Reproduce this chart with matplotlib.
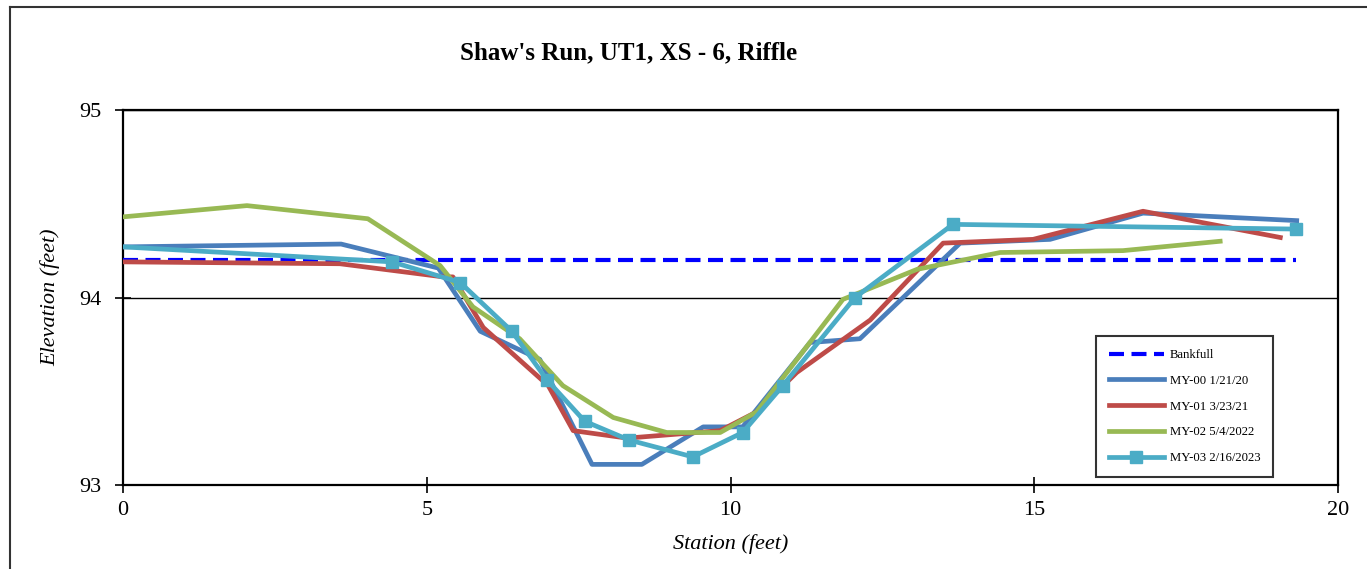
import matplotlib
matplotlib.use("Agg")
import matplotlib.pyplot as plt
from matplotlib.lines import Line2D

plt.rcParams['font.family'] = ['Liberation Serif', 'DejaVu Serif']

title = "Shaw's Run, UT1, XS - 6, Riffle"
x_label = "Station (feet)"
y_label = "Elevation (feet)"

bankfull_sta = [0.0, 19.31]
bankfull_elev = [94.20, 94.20]

my00_sta = [0.0, 3.59, 5.19, 5.88, 6.86, 7.72, 8.54, 9.55, 10.20, 11.31, 12.13, 13.78, 15.26, 16.79, 19.32]
my00_elev = [94.27, 94.285, 94.157, 93.82, 93.67, 93.11, 93.11, 93.31, 93.31, 93.76, 93.78, 94.29, 94.31, 94.45, 94.41]

my01_sta = [0.0, 3.57, 5.27, 5.43, 5.93, 7.00, 7.41, 8.30, 9.83, 10.43, 11.09, 12.30, 13.50, 14.98, 16.79, 19.05]
my01_elev = [94.19, 94.18, 94.11, 94.11, 93.84, 93.53, 93.29, 93.25, 93.29, 93.39, 93.60, 93.88, 94.29, 94.31, 94.46, 94.32]

my02_sta = [0.0, 2.04, 4.03, 5.22, 5.76, 6.53, 7.24, 8.07, 8.95, 9.83, 10.43, 11.85, 13.07, 14.44, 16.46, 18.06]
my02_elev = [94.43, 94.49, 94.42, 94.17, 93.95, 93.78, 93.53, 93.36, 93.28, 93.28, 93.39, 93.99, 94.15, 94.24, 94.25, 94.30]

my03_sta = [0.0, 4.43, 5.55, 6.40, 6.98, 7.60, 8.33, 9.38, 10.20, 10.86, 12.05, 13.66, 19.31]
my03_elev = [94.27, 94.19, 94.08, 93.82, 93.56, 93.34, 93.24, 93.15, 93.28, 93.53, 94.00, 94.39, 94.365]

series_labels = ["Bankfull", "MY-00 1/21/20", "MY-01 3/23/21", "MY-02 5/4/2022", "MY-03 2/16/2023"]

x_ticks = [0, 5, 10, 15, 20]
y_ticks = [93, 94, 95]

fig = plt.figure(figsize=(13.67, 5.69), dpi=100)
ax = fig.add_axes([0.0900, 0.1476, 0.8888, 0.6591])

lw = 3.4
ax.plot(bankfull_sta, bankfull_elev, color="#0000FF", lw=3.0, dashes=(3.6, 1.8),
        label=series_labels[0], zorder=3)
ax.plot(my00_sta, my00_elev, color="#4A7EBB", lw=lw, label=series_labels[1], zorder=4)
ax.plot(my01_sta, my01_elev, color="#BE4B48", lw=lw, label=series_labels[2], zorder=5)
ax.plot(my02_sta, my02_elev, color="#98B954", lw=lw, label=series_labels[3], zorder=6)
ax.plot(my03_sta, my03_elev, color="#4BACC6", lw=lw, marker="s", markersize=9,
        markevery=list(range(1, len(my03_sta))), label=series_labels[4], zorder=7)

ax.set_xlim(0, 20)
ax.set_ylim(93, 95)
ax.set_xticks(x_ticks)
ax.set_yticks(y_ticks)
ax.tick_params(direction="inout", length=11, width=1.2, labelsize=16, color="black")
ax.tick_params(axis="x", pad=6)
ax.tick_params(axis="y", pad=10)
ax.yaxis.grid(True, color="black", lw=1.0)
ax.set_axisbelow(True)
for s in ax.spines.values():
    s.set_linewidth(1.6)
    s.set_color("black")

ax.set_xlabel(x_label, fontsize=16, style="italic", labelpad=10)
ax.set_ylabel(y_label, fontsize=16, style="italic", labelpad=14)
fig.text(0.4595, 0.908, title, fontsize=18, fontweight="bold", ha="center", va="center")

leg = ax.legend(loc="lower right", bbox_to_anchor=(0.9465, 0.0213), fontsize=9.2,
                frameon=True, fancybox=False, edgecolor="black", handlelength=4.3,
                labelspacing=1.08, borderpad=1.0, handletextpad=0.45,
                borderaxespad=0.0)
leg.get_frame().set_linewidth(1.5)

# outer chart frame
fig.add_artist(Line2D([10 / 1367, 10 / 1367], [0, 1 - 7 / 569], color="#333333", lw=1.5,
                      transform=fig.transFigure))
fig.add_artist(Line2D([10 / 1367, 1], [1 - 7 / 569, 1 - 7 / 569], color="#333333", lw=1.5,
                      transform=fig.transFigure))

fig.savefig("out.png", dpi=100)
